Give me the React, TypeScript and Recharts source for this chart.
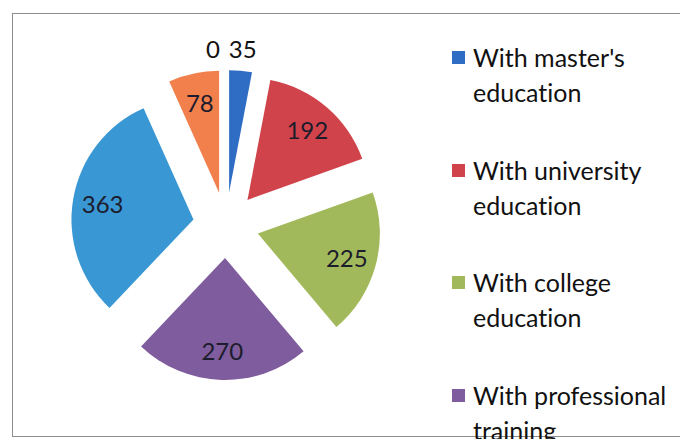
import React from "react";
import { Cell, Legend, Pie, PieChart } from "recharts";

// slices go clockwise from 12 o'clock
const categories = [
  "With master's education",
  "With university education",
  "With college education",
  "With professional training",
  "With secondary education", // cut off in the source, name assumed
  "With primary education", // cut off in the source, name assumed
  "Without education", // cut off in the source, name assumed
];
const values = [35, 192, 225, 270, 363, 78, 0];
const colors = ["#2f6cc4", "#d0434b", "#a2b95b", "#7e5c9d", "#3997d4", "#f2804d", "#e8e8e8"];

// only the first four legend entries are visible in the picture
const legendLines = [
  ["With master's", "education"],
  ["With university", "education"],
  ["With college", "education"],
  ["With professional", "training"],
];

const data = categories.map((name, i) => ({ name, value: values[i] }));
const total = values.reduce((a, b) => a + b, 0);

const CX = 226;
const CY = 225;
const RADIUS = 122;
const EXPLODE = 33;
const FONT = "Lato, 'Open Sans', sans-serif";

// centre shift for each exploded slice, from its mid angle
const offsets = values.map((v, i) => {
  const before = values.slice(0, i).reduce((a, b) => a + b, 0);
  const mid = 90 - ((before + v / 2) / total) * 360;
  const rad = (mid * Math.PI) / 180;
  return { dx: EXPLODE * Math.cos(rad), dy: -EXPLODE * Math.sin(rad) };
});

const makeLabel = (slice: number) => (props: any) => {
  const { cx, cy, midAngle, outerRadius, value, index } = props;
  if (index !== slice) return null;
  const outside = value < 50;
  const r = outside ? outerRadius * 1.18 : outerRadius * 0.755;
  const rad = (midAngle * Math.PI) / 180;
  const x = cx + r * Math.cos(rad);
  const y = cy - r * Math.sin(rad);
  const isZero = value === 0;
  return (
    <text
      x={isZero ? x - 6 : x}
      y={y}
      textAnchor={isZero ? "end" : "middle"}
      dominantBaseline="central"
      fill={outside ? "#111" : "#1c1c2c"}
      fontSize={24}
      fontFamily={FONT}
    >
      {value}
    </text>
  );
};

const LegendBox = () => (
  <div
    style={{
      position: "relative",
      width: 228,
      height: 439,
      fontFamily: FONT,
      fontVariantLigatures: "none",
    }}
  >
    {legendLines.map((lines, i) => (
      <div key={i} style={{ position: "absolute", left: 0, top: i * 112.7 }}>
        <div
          style={{
            position: "absolute",
            left: 0,
            top: 11,
            width: 13,
            height: 13,
            background: colors[i],
          }}
        />
        <div
          style={{
            position: "absolute",
            left: 21,
            top: 0,
            fontSize: 25,
            lineHeight: "35px",
            color: "#111",
            whiteSpace: "nowrap",
          }}
        >
          {lines.map((l) => (
            <div key={l}>{l}</div>
          ))}
        </div>
      </div>
    ))}
  </div>
);

export default function App() {
  return (
    <div
      style={{
        position: "absolute",
        left: 0,
        top: 0,
        width: 680,
        height: 439,
        overflow: "hidden",
        background: "#fff",
      }}
    >
      <div
        style={{
          position: "absolute",
          left: 12,
          top: 13,
          width: 700,
          height: 422,
          border: "1.5px solid #8c8c8c",
        }}
      />
      <PieChart width={680} height={439} margin={{ top: 0, right: 0, bottom: 0, left: 0 }}>
        {values.map((_, i) => (
          <Pie
            key={i}
            data={data}
            dataKey="value"
            nameKey="name"
            cx={CX + offsets[i].dx}
            cy={CY + offsets[i].dy}
            outerRadius={RADIUS}
            startAngle={90}
            endAngle={-270}
            stroke="none"
            label={makeLabel(i)}
            labelLine={false}
            isAnimationActive={false}
          >
            {data.map((d, j) => (
              <Cell key={d.name} fill={j === i ? colors[j] : "none"} />
            ))}
          </Pie>
        ))}
        <Legend
          layout="vertical"
          align="right"
          verticalAlign="top"
          wrapperStyle={{ left: 452, top: 40, width: 228 }}
          content={() => <LegendBox />}
        />
      </PieChart>
    </div>
  );
}
